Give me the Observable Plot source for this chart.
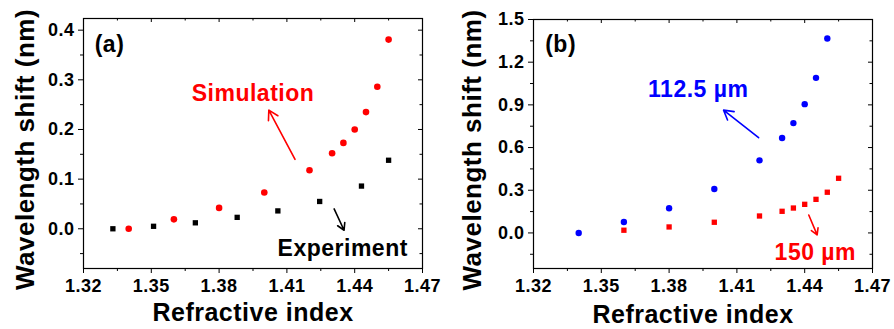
<!DOCTYPE html>
<html><head><meta charset="utf-8">
<script src="https://cdn.jsdelivr.net/npm/d3@7"></script>
<script src="https://cdn.jsdelivr.net/npm/@observablehq/plot@0.6"></script>
<style>
html,body{margin:0;padding:0;background:#fff;}
#wrap{display:flex;width:894px;height:329px;overflow:hidden;}
#wrap svg{display:block;flex:none;}
</style></head><body><div id="wrap"></div>
<script>
// ---- Panel (a) data ----
const riSimA = [1.34, 1.36, 1.38, 1.40, 1.42, 1.43, 1.435, 1.44, 1.445, 1.45, 1.455];
const shiftSimA = [0, 0.019, 0.042, 0.073, 0.118, 0.152, 0.173, 0.200, 0.235, 0.286, 0.381];
const riExpA = [1.333, 1.351, 1.3695, 1.388, 1.406, 1.4245, 1.443, 1.455];
const shiftExpA = [0, 0.005, 0.012, 0.023, 0.036, 0.055, 0.086, 0.138];
// ---- Panel (b) data ----
const ri112B = [1.34, 1.36, 1.38, 1.40, 1.42, 1.43, 1.435, 1.44, 1.445, 1.45];
const shift112B = [0, 0.077, 0.173, 0.309, 0.510, 0.667, 0.772, 0.905, 1.090, 1.366];
const ri150B = [1.36, 1.38, 1.40, 1.42, 1.43, 1.435, 1.44, 1.445, 1.45, 1.455];
const shift150B = [0.019, 0.042, 0.075, 0.119, 0.152, 0.175, 0.201, 0.236, 0.286, 0.384];
// ---- ticks ----
const xTicks = [1.32, 1.35, 1.38, 1.41, 1.44, 1.47];
const xMinor = [1.335, 1.365, 1.395, 1.425, 1.455];
const yTicksA = [0, 0.1, 0.2, 0.3, 0.4];
const yMinorA = [-0.05, 0.05, 0.15, 0.25, 0.35];
const yTicksB = [0, 0.3, 0.6, 0.9, 1.2, 1.5];
const yMinorB = [-0.15, 0.15, 0.45, 0.75, 1.05, 1.35];
// ---- text ----
const xTitle = "Refractive index";
const yTitle = "Wavelength shift (nm)";
const labelTextA = ["(a)", "Simulation", "Experiment"];
const labelXA = [1.3315, 1.395, 1.4347];
const labelYA = [0.371, 0.273, -0.039];
const labelColorA = ["black", "#ff0000", "black"];
const labelTextB = ["(b)", "112.5 µm", "150 µm"];
const labelXB = [1.332, 1.3929, 1.4447];
const labelYB = [1.326, 1.0105, -0.140];
const labelColorB = ["black", "#0000ff", "#ff0000"];
// arrows: [x1, y1, x2, y2]
const arrowsA = [[1.4136, 0.1397, 1.402, 0.239], [1.4309, 0.040, 1.4353, -0.003]];
const arrowColorA = ["#ff0000", "black"];
const arrowsB = [[1.4196, 0.669, 1.4041, 0.863], [1.4418, 0.126, 1.4455, -0.014]];
const arrowColorB = ["#0000ff", "#ff0000"];

const W = 447, H = 329;

function rows(xs, ys) { return xs.map((x, i) => ({x, y: ys[i]})); }

function panel(o) {
  const plotW = W - o.ml - o.mr, plotH = H - o.mt - o.mb;
  const labels = o.labelText.map((t, i) => ({t, x: o.labelX[i], y: o.labelY[i], c: o.labelColor[i]}));
  const arrows = o.arrows.map((a, i) => ({x1: a[0], y1: a[1], x2: a[2], y2: a[3], c: o.arrowColor[i]}));
  const marks = [
    Plot.frame({stroke: "black", strokeWidth: 1.2}),
    Plot.axisX(xTicks, {tickSize: 5, tickPadding: 6, tickFormat: d3.format(".2f"), label: null}),
    Plot.axisX(xMinor, {tickSize: 3, tickFormat: () => "", label: null}),
    Plot.axisY(o.yTicks, {tickSize: 5, tickPadding: 4, tickFormat: d3.format(".1f"), label: null}),
    Plot.axisY(o.yMinor, {tickSize: 3, tickFormat: () => "", label: null}),
    Plot.ruleX(xTicks, {x: d => d, insetBottom: plotH - 4, stroke: "black"}),
    Plot.ruleX(xMinor, {x: d => d, insetBottom: plotH - 2.5, stroke: "black"}),
    Plot.ruleY(o.yTicks, {y: d => d, insetLeft: plotW - 4, stroke: "black"}),
    Plot.ruleY(o.yMinor, {y: d => d, insetLeft: plotW - 2.5, stroke: "black"}),
    ...o.series.map(s => Plot.dot(rows(s.x, s.y), {x: "x", y: "y", symbol: s.symbol, r: s.r, fill: s.color, stroke: null})),
    Plot.arrow(arrows, {x1: "x1", y1: "y1", x2: "x2", y2: "y2", stroke: "c", strokeWidth: 1.6, headLength: 10, bend: 0}),
    Plot.text(labels, {x: "x", y: "y", text: "t", fill: "c", fontSize: 23, fontWeight: "bold"}),
    Plot.text([xTitle], {frameAnchor: "bottom", textAnchor: "middle", lineAnchor: "middle", text: d => d, dy: o.xtdy, dx: o.xtdx, fontSize: 25, fontWeight: "bold"}),
    Plot.text([yTitle], {frameAnchor: "left", textAnchor: "middle", lineAnchor: "middle", text: d => d, rotate: -90, dx: o.ytdx, dy: 6, fontSize: 26, fontWeight: "bold"})
  ];
  return Plot.plot({
    width: W, height: H,
    marginLeft: o.ml, marginRight: o.mr, marginTop: o.mt, marginBottom: o.mb,
    x: {domain: [1.32, 1.47]},
    y: {domain: o.yDomain},
    style: {fontFamily: "'Liberation Sans', Arial, sans-serif", fontWeight: "bold", fontSize: "18px", letterSpacing: "0.5px", color: "black", background: "white"},
    marks
  });
}

const wrap = document.getElementById("wrap");
wrap.appendChild(panel({
  ml: 83, mr: 25, mt: 18, mb: 61, yDomain: [-0.08, 0.4235],
  yTicks: yTicksA, yMinor: yMinorA,
  series: [
    {x: riExpA, y: shiftExpA, symbol: "square", r: 3, color: "black"},
    {x: riSimA, y: shiftSimA, symbol: "circle", r: 3.3, color: "#ff0000"}
  ],
  labelText: labelTextA, labelX: labelXA, labelY: labelYA, labelColor: labelColorA,
  arrows: arrowsA, arrowColor: arrowColorA,
  xtdy: 44, xtdx: 0, ytdx: -58
}));
wrap.appendChild(panel({
  ml: 86, mr: 22, mt: 19, mb: 61, yDomain: [-0.25, 1.5],
  yTicks: yTicksB, yMinor: yMinorB,
  series: [
    {x: ri150B, y: shift150B, symbol: "square", r: 3, color: "#ff0000"},
    {x: ri112B, y: shift112B, symbol: "circle", r: 3.2, color: "#0000ff"}
  ],
  labelText: labelTextB, labelX: labelXB, labelY: labelYB, labelColor: labelColorB,
  arrows: arrowsB, arrowColor: arrowColorB,
  xtdy: 46, xtdx: -10, ytdx: -61
}));
</script>
</body></html>
